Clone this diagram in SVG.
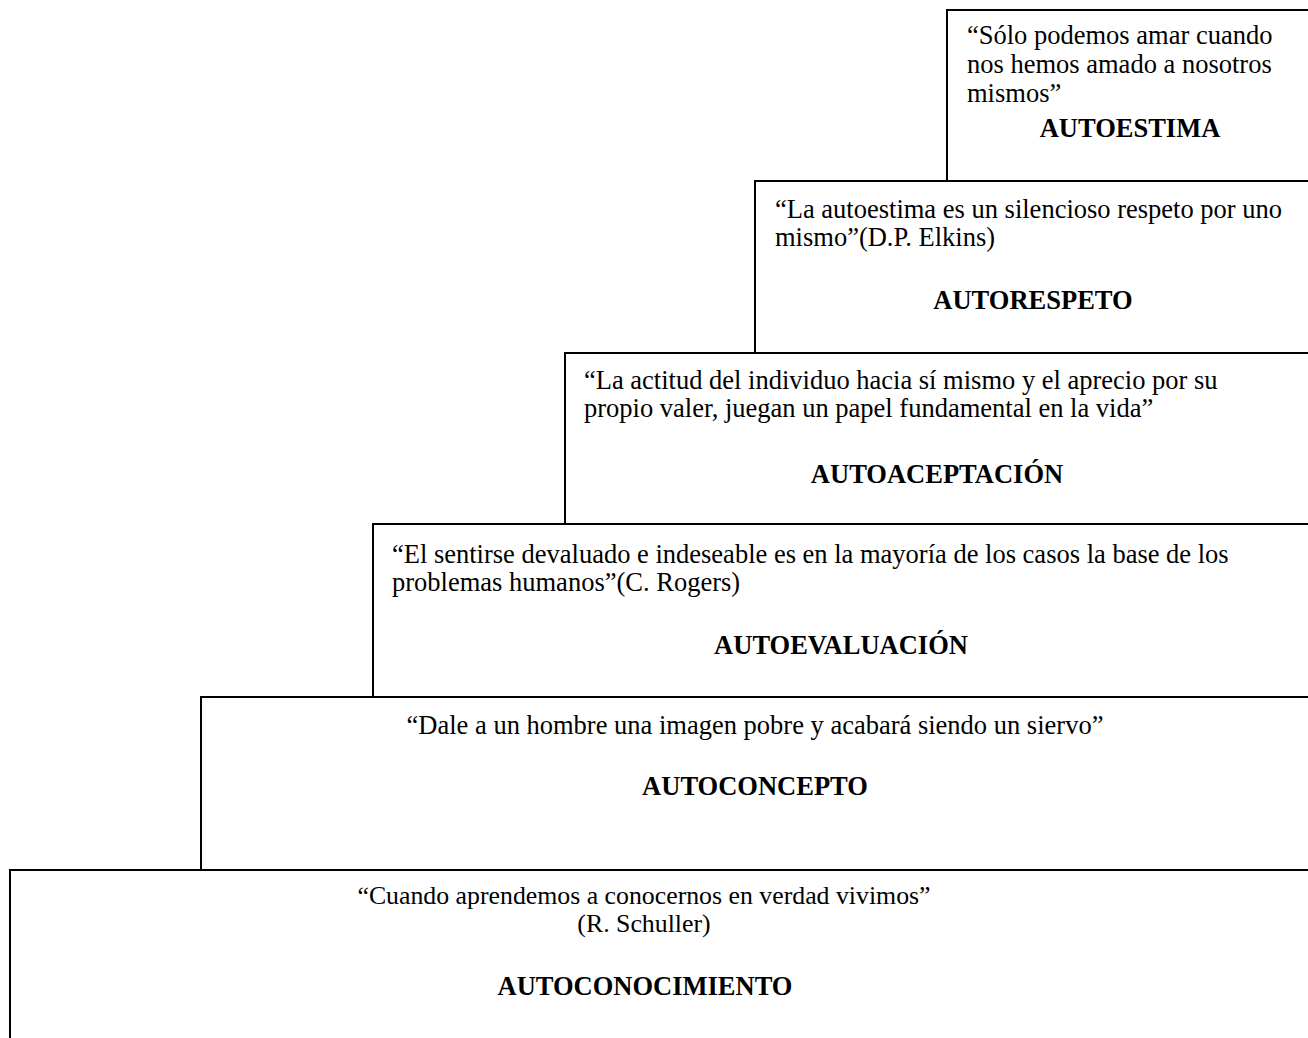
<svg xmlns="http://www.w3.org/2000/svg" width="1308" height="1038" viewBox="0 0 1308 1038">
<style>
.box{fill:#fff;stroke:#000;stroke-width:2}
text{font-family:"Liberation Serif","Times New Roman",serif;font-size:26.5px;fill:#000}
.t{font-weight:bold;text-anchor:middle}
.c{text-anchor:middle}
.s{font-size:25.8px}
</style>
<rect width="1308" height="1038" fill="#fff"/>
<g id="autoestima">
<rect class="box" x="947" y="10" width="400" height="200"/>
<text x="967" y="44">“Sólo podemos amar cuando</text>
<text x="967" y="73">nos hemos amado a nosotros</text>
<text x="967" y="102">mismos”</text>
<text class="t" x="1130" y="137">AUTOESTIMA</text>
</g>
<g id="autorespeto">
<rect class="box" x="755" y="181" width="600" height="200"/>
<text x="775" y="218">“La autoestima es un silencioso respeto por uno</text>
<text x="775" y="246">mismo”(D.P. Elkins)</text>
<text class="t" x="1033" y="309">AUTORESPETO</text>
</g>
<g id="autoaceptacion">
<rect class="box" x="565" y="353" width="800" height="200"/>
<text x="584" y="389">“La actitud del individuo hacia sí mismo y el aprecio por su</text>
<text x="584" y="417">propio valer, juegan un papel fundamental en la vida”</text>
<text class="t" x="937" y="483">AUTOACEPTACIÓN</text>
</g>
<g id="autoevaluacion">
<rect class="box" x="373" y="524" width="1000" height="200"/>
<text x="392" y="563">“El sentirse devaluado e indeseable es en la mayoría de los casos la base de los</text>
<text x="392" y="591">problemas humanos”(C. Rogers)</text>
<text class="t" x="841" y="654">AUTOEVALUACIÓN</text>
</g>
<g id="autoconcepto">
<rect class="box" x="201" y="697" width="1200" height="200"/>
<text class="c" x="755" y="734">“Dale a un hombre una imagen pobre y acabará siendo un siervo”</text>
<text class="t" x="755" y="795">AUTOCONCEPTO</text>
</g>
<g id="autoconocimiento">
<rect class="box" x="10" y="870" width="1400" height="300"/>
<text class="c s" x="644" y="904">“Cuando aprendemos a conocernos en verdad vivimos”</text>
<text class="c s" x="644" y="932">(R. Schuller)</text>
<text class="t" x="645" y="995">AUTOCONOCIMIENTO</text>
</g>
<g id="connectors"></g>
</svg>
